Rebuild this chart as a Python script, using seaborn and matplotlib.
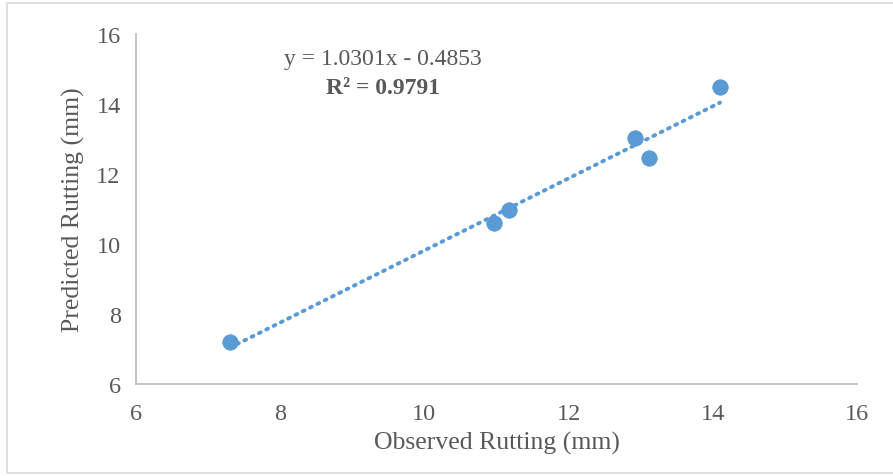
import matplotlib
matplotlib.use("Agg")
import matplotlib.pyplot as plt
import seaborn as sns
import numpy as np
import pandas as pd
from matplotlib.patches import Rectangle

observed = [7.30, 10.97, 11.18, 12.92, 13.11, 14.10]
predicted = [7.20, 10.60, 10.98, 13.03, 12.45, 14.50]
slope = 1.0301
intercept = -0.4853
r2 = 0.9791
xticks = [6, 8, 10, 12, 14, 16]
yticks = [6, 8, 10, 12, 14, 16]

df = pd.DataFrame({"Observed": observed, "Predicted": predicted})

sns.set_style("white")
plt.rcParams['font.family'] = ['Liberation Serif', 'DejaVu Serif']

blue = "#5B9BD5"
gray_text = "#595959"
axis_gray = "#BFBFBF"

fig = plt.figure(figsize=(8.93, 4.77), dpi=100)
ax = fig.add_axes([136/893, 1-385/477, (857-136)/893, (385-35)/477])

xs = np.array([min(observed), max(observed)])
ax.plot(xs, slope*xs + intercept, linestyle=(0, (0.5, 1.6)), color=blue, lw=2.8,
        dash_capstyle="round", zorder=2)
sns.scatterplot(data=df, x="Observed", y="Predicted", ax=ax, color=blue, s=125,
                edgecolor=blue, linewidth=0.5, zorder=3)

ax.set_xlim(6, 16)
ax.set_ylim(6, 16)
ax.set_xticks(xticks)
ax.set_yticks(yticks)
ax.set_xticklabels([str(t) for t in xticks])
ax.set_yticklabels([str(t) for t in yticks])
for side in ["top", "right"]:
    ax.spines[side].set_visible(False)
for side in ["left", "bottom"]:
    ax.spines[side].set_color(axis_gray)
    ax.spines[side].set_linewidth(1.3)
ax.tick_params(axis="both", direction="out", length=5, width=1.3, color=axis_gray,
               labelsize=17.5, labelcolor=gray_text, pad=6)
ax.tick_params(axis="x", pad=9)
ax.set_xlabel("Observed Rutting (mm)", fontsize=18.5, color=gray_text, labelpad=5)
ax.set_ylabel("Predicted Rutting (mm)", fontsize=18.5, color=gray_text, labelpad=8)

fig.text(383/893, 1-60/477, "y = 1.0301x - 0.4853", ha="center", va="center",
         fontsize=17, color=gray_text)
fig.text(383/893, 1-88/477, f"R\u00b2 = {r2:.4f}", ha="center", va="center",
         fontsize=17, color=gray_text, fontweight="bold")

fig.patches.append(Rectangle((7/893, 1-474/477), (900-7)/893, (474-4)/477,
                             transform=fig.transFigure, fill=False,
                             edgecolor="#D9D9D9", lw=1.2))

fig.savefig("out.png", dpi=100)
